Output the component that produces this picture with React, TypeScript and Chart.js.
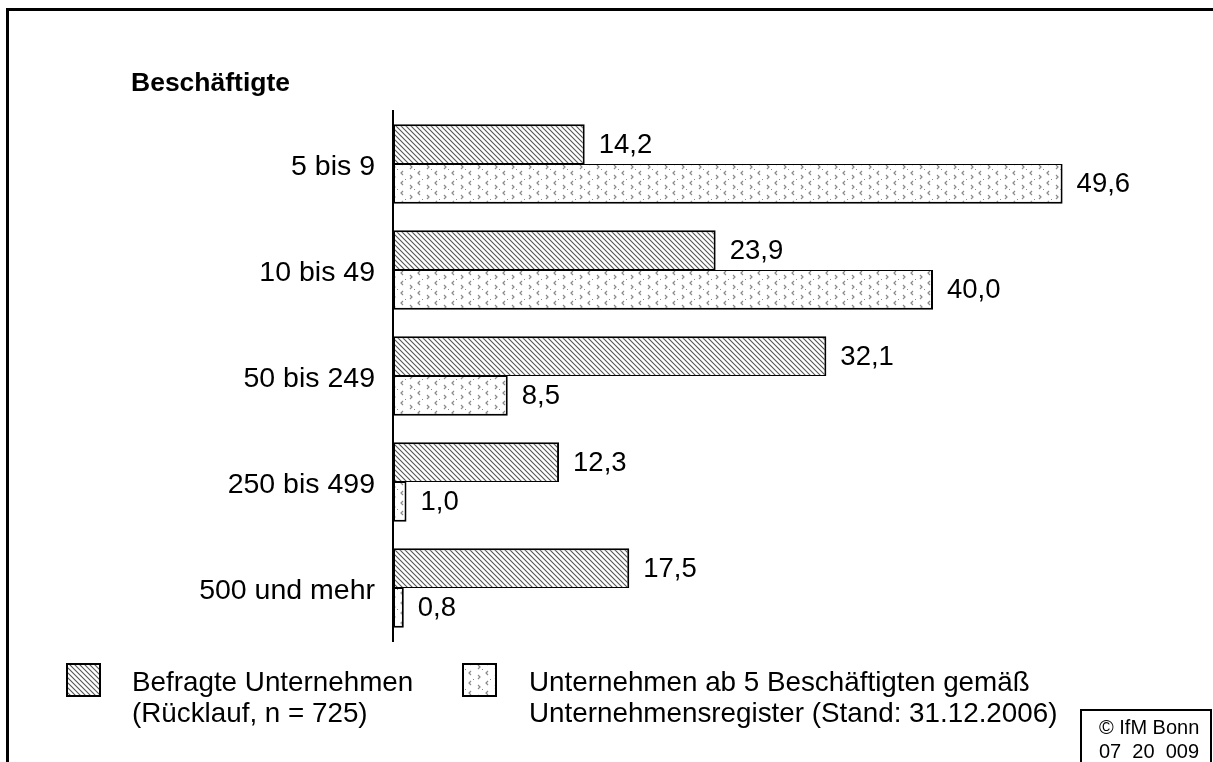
import React, { useEffect, useRef } from 'react';
import { Chart, registerables } from 'chart.js';

Chart.register(...registerables);

const categories = ['5 bis 9', '10 bis 49', '50 bis 249', '250 bis 499', '500 und mehr'];
const befragteUnternehmen = [14.2, 23.9, 32.1, 12.3, 17.5];
const unternehmensregister = [49.6, 40.0, 8.5, 1.0, 0.8];
const seriesNames = ['Befragte Unternehmen', 'Unternehmen ab 5 Beschäftigten gemäß Unternehmensregister'];
const legendLines = [
  ['Befragte Unternehmen', '(Rücklauf, n = 725)'],
  ['Unternehmen ab 5 Beschäftigten gemäß', 'Unternehmensregister (Stand: 31.12.2006)'],
];
const axisTitle = 'Beschäftigte';
const copyrightLines = ['© IfM Bonn', '07  20  009'];

const FONT = '"Liberation Sans", Arial, sans-serif';

function makeHatch(ctx: CanvasRenderingContext2D): CanvasPattern | string {
  const s = 5;
  const c = document.createElement('canvas');
  c.width = s;
  c.height = s;
  const g = c.getContext('2d');
  if (!g) return '#999';
  g.fillStyle = '#ffffff';
  g.fillRect(0, 0, s, s);
  g.strokeStyle = '#555555';
  g.lineWidth = 1.1;
  g.beginPath();
  g.moveTo(-1, -1);
  g.lineTo(s + 1, s + 1);
  g.moveTo(-1, s - 1);
  g.lineTo(1, s + 1);
  g.moveTo(s - 1, -1);
  g.lineTo(s + 1, 1);
  g.stroke();
  return ctx.createPattern(c, 'repeat') || '#999';
}

function makeChevrons(ctx: CanvasRenderingContext2D): CanvasPattern | string {
  const w = 17;
  const h = 20;
  const c = document.createElement('canvas');
  c.width = w;
  c.height = h;
  const g = c.getContext('2d');
  if (!g) return '#eee';
  g.fillStyle = '#ffffff';
  g.fillRect(0, 0, w, h);
  g.strokeStyle = '#8a8a8a';
  g.lineWidth = 1.2;
  const lt = (x: number, y: number) => {
    g.beginPath();
    g.moveTo(x + 2, y);
    g.lineTo(x, y + 2);
    g.lineTo(x + 2, y + 4);
    g.stroke();
  };
  const gt = (x: number, y: number) => {
    g.beginPath();
    g.moveTo(x, y);
    g.lineTo(x + 2, y + 2);
    g.lineTo(x, y + 4);
    g.stroke();
  };
  lt(10, 1);
  gt(2, 5);
  lt(10, 11);
  gt(2, 15);
  g.fillStyle = '#8a8a8a';
  g.fillRect(6, 9, 1, 1);
  g.fillRect(14, 19, 1, 1);
  return ctx.createPattern(c, 'repeat') || '#eee';
}

export default function App() {
  const ref = useRef<HTMLCanvasElement | null>(null);

  useEffect(() => {
    const canvas = ref.current;
    if (!canvas) return;
    const ctx0 = canvas.getContext('2d') as CanvasRenderingContext2D;
    const hatch = makeHatch(ctx0);
    const chev = makeChevrons(ctx0);

    const overlay = {
      id: 'overlay',
      afterDatasetsDraw(chart: any) {
        const ctx: CanvasRenderingContext2D = chart.ctx;
        ctx.save();
        // value labels
        ctx.fillStyle = '#000';
        ctx.font = `27.5px ${FONT}`;
        ctx.textAlign = 'left';
        ctx.textBaseline = 'middle';
        chart.data.datasets.forEach((ds: any, i: number) => {
          const meta = chart.getDatasetMeta(i);
          meta.data.forEach((bar: any, j: number) => {
            const v = ds.data[j] as number;
            ctx.fillText(v.toFixed(1).replace('.', ','), bar.x + 14, bar.y + 1);
          });
        });
        // axis title
        ctx.font = `bold 26.5px ${FONT}`;
        ctx.fillText(axisTitle, 131, 84);
        // legend
        const fills = [hatch, chev];
        const boxX = [67, 463];
        const textX = [132, 529];
        for (let k = 0; k < 2; k++) {
          ctx.fillStyle = fills[k] as any;
          ctx.fillRect(boxX[k], 664, 33, 32);
          ctx.strokeStyle = '#000';
          ctx.lineWidth = 2;
          ctx.strokeRect(boxX[k], 664, 33, 32);
          ctx.fillStyle = '#000';
          ctx.font = `27.8px ${FONT}`;
          legendLines[k].forEach((line, li) => {
            ctx.fillText(line, textX[k], 683 + li * 31);
          });
        }
        // copyright box
        ctx.strokeStyle = '#000';
        ctx.lineWidth = 2;
        ctx.strokeRect(1081, 710, 130, 70);
        ctx.font = `20px ${FONT}`;
        ctx.fillText(copyrightLines[0], 1099, 728);
        ctx.fillText(copyrightLines[1], 1099, 752);
        // frame
        ctx.fillStyle = '#000';
        ctx.fillRect(6, 8, 1213, 3);
        ctx.fillRect(6, 8, 3, 762);
        ctx.restore();
      },
    };

    const chart = new Chart(canvas, {
      type: 'bar',
      data: {
        labels: categories,
        datasets: [
          {
            label: seriesNames[0],
            data: befragteUnternehmen,
            backgroundColor: hatch as any,
            borderColor: '#000',
            borderWidth: { top: 2, left: 2, right: 2, bottom: 1 },
            borderSkipped: false,
            barPercentage: 1,
            categoryPercentage: 0.75,
          },
          {
            label: seriesNames[1],
            data: unternehmensregister,
            backgroundColor: chev as any,
            borderColor: '#000',
            borderWidth: { top: 1, left: 2, right: 2, bottom: 2 },
            borderSkipped: false,
            barPercentage: 1,
            categoryPercentage: 0.75,
          },
        ],
      },
      options: {
        indexAxis: 'y',
        animation: false,
        responsive: true,
        maintainAspectRatio: false,
        layout: { padding: { top: 111, bottom: 121, left: 0, right: 10 } },
        plugins: {
          legend: { display: false },
          tooltip: { enabled: false },
        },
        scales: {
          x: { display: false, min: 0, max: 60 },
          y: {
            grid: { display: false, drawTicks: false },
            border: { display: true, color: '#000', width: 2 },
            ticks: {
              color: '#000',
              font: { family: FONT, size: 28.5 },
              padding: 18,
              labelOffset: 3,
            },
            afterFit: (scale: any) => {
              scale.width = 393;
            },
          },
        },
      },
      plugins: [overlay],
    });
    return () => chart.destroy();
  }, []);

  return (
    <div style={{ position: 'absolute', left: 0, top: 0, width: 1213, height: 762, background: '#fff' }}>
      <canvas ref={ref} />
    </div>
  );
}
